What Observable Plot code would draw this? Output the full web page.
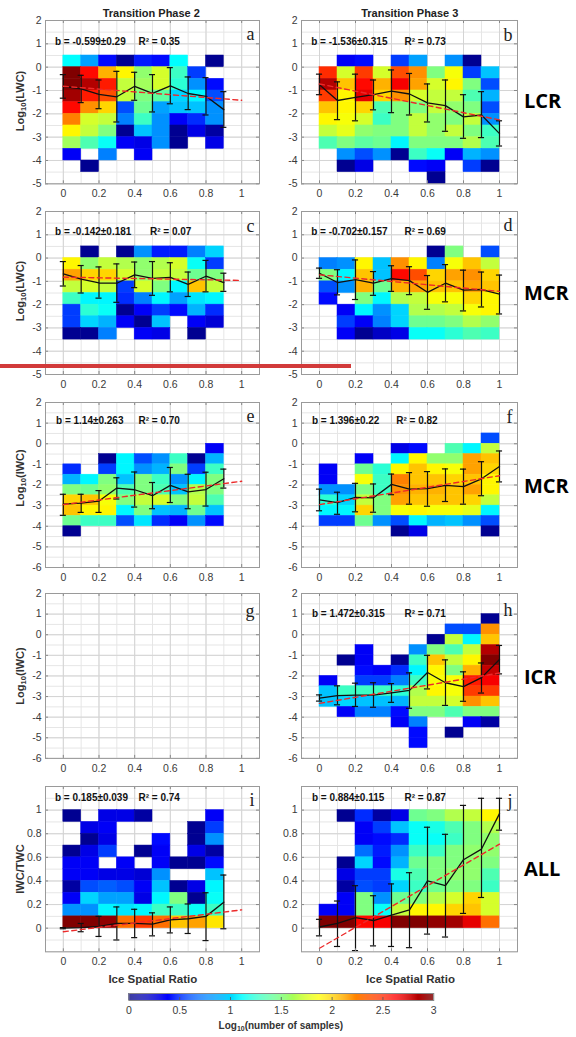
<!DOCTYPE html>
<html><head><meta charset="utf-8">
<script src="https://cdn.jsdelivr.net/npm/d3@7"></script>
<script src="https://cdn.jsdelivr.net/npm/@observablehq/plot@0.6"></script>
<style>
body{margin:0;background:#fff;}
#root{position:relative;width:576px;height:1037px;overflow:hidden;font-family:"Liberation Sans",Arial,sans-serif;}
.t{position:absolute;white-space:nowrap;color:#222;}
.ctr{transform:translate(-50%,-50%);}
.rot{transform:translate(-50%,-50%) rotate(-90deg);}
.bold{font-weight:bold;}
sub{font-size:70%;vertical-align:-0.3em;line-height:0;}
</style></head><body><div id="root"></div>
<script>
// ---------------- data ----------------
const ratio = [0, 0.1, 0.2, 0.3, 0.4, 0.5, 0.6, 0.7, 0.8, 0.9, 1.0];
const xTicks = [0, 0.2, 0.4, 0.6, 0.8, 1];
const xGrid = [-0.1, 0, 0.1, 0.2, 0.3, 0.4, 0.5, 0.6, 0.7, 0.8, 0.9, 1.0, 1.1];
const yTicksLWC = [-5, -4, -3, -2, -1, 0, 1, 2];
const yTicksIWC = [-6, -5, -4, -3, -2, -1, 0, 1, 2];
const yTicksFrac = [0, 0.2, 0.4, 0.6, 0.8, 1];
const yGridLWC = [-5, -4.5, -4, -3.5, -3, -2.5, -2, -1.5, -1, -0.5, 0, 0.5, 1, 1.5, 2];
const yGridIWC = [-6, -5.5, ...yGridLWC];
const yGridFrac = [-0.2, -0.1, 0, 0.1, 0.2, 0.3, 0.4, 0.5, 0.6, 0.7, 0.8, 0.9, 1.0, 1.1, 1.2];
const cbTicks = [0, 0.5, 1, 1.5, 2, 2.5, 3];

// log10(number of samples) per cell, rows listed top to bottom, columns = ice spatial ratio bins
const countsA = [ // top 0.5, step 0.5
  [1.125,0.85,0.4,0.05,0.45,0.4,1.125,null,0.05],
  [3.0,2.6,2.1,1.9,1.55,1.75,1.3,0.55,null],
  [3.0,2.85,2.55,1.7,1.6,1.75,1.25,0.8,0.4],
  [2.9,2.55,2.4,1.7,1.5,1.4,1.0,1.1,0.6],
  [2.6,2.2,2.0,0.6,1.45,0.85,0.95,0.95,0.8],
  [2.25,1.75,1.7,0.75,1.3,0.8,0.35,0.5,0.8],
  [1.9,1.7,1.5,0.05,0.95,0.8,0.05,0.3,0.1],
  [1.6,1.35,1.15,0.35,0.3,0.8,0.05,null,0.3],
  [0.35,null,0.75,null,0.35,null,null,null,null],
  [null,0.05,null,null,null,null,null,null,null]];
const countsB = [ // top 0.5
  [null,0.35,0.4,null,0.55,0.85,null,0.8,0.05,null],
  [2.5,1.75,2.45,1.75,2.4,2.2,1.5,1.85,0.55,0.95],
  [2.85,2.05,2.6,2.1,2.65,2.15,1.75,1.9,1.5,0.6],
  [2.45,1.9,2.7,2.0,2.2,1.75,1.7,1.7,1.35,0.9],
  [2.05,1.9,2.0,1.35,1.5,1.5,1.7,1.55,1.5,0.6],
  [1.9,1.85,1.75,1.3,1.5,1.7,1.55,1.5,1.7,0.8],
  [1.7,1.8,1.55,1.5,1.5,1.7,1.55,1.7,1.5,1.3],
  [1.35,1.5,1.4,1.45,1.1,1.5,1.5,1.5,1.65,1.35],
  [null,0.8,0.6,0.8,0.05,1.3,1.15,0.35,0.9,0.8],
  [null,0.05,0.3,null,null,0.4,0.35,null,0.55,0.05],
  [null,null,null,null,null,null,0.05,null,null,null]];
const countsC = [ // top 0.5
  [null,0.05,null,0.05,0.8,0.45,0.45,0.75,1.0],
  [1.9,1.55,1.7,1.65,1.55,1.65,1.75,1.15,0.55],
  [2.15,2.0,2.0,1.75,1.55,1.7,1.7,1.45,1.5],
  [1.7,1.75,1.7,0.55,1.75,1.5,1.1,2.05,1.7],
  [1.3,1.1,1.1,0.5,0.75,1.1,0.85,1.05,1.1],
  [0.55,1.25,1.15,0.05,0.35,0.55,0.4,0.9,0.5],
  [0.55,1.0,0.9,0.35,0.05,0.95,null,0.35,0.25],
  [0.05,0.05,0.75,null,0.35,0.3,null,0.05,null]];
const countsD = [ // top 0.5
  [null,null,null,null,null,null,0.05,1.5,null,0.6],
  [0.75,0.8,1.9,0.95,2.2,1.9,0.75,1.85,2.05,1.7],
  [1.5,1.1,2.05,0.95,2.6,2.4,2.0,2.15,2.2,2.0],
  [0.6,0.8,2.1,1.45,2.1,2.15,2.05,2.05,2.15,2.05],
  [0.4,null,1.5,1.1,1.65,1.7,1.85,1.85,2.0,1.9],
  [null,0.35,1.1,0.8,1.0,1.65,1.65,1.7,1.85,1.9],
  [null,0.55,0.35,0.75,1.0,1.45,1.45,1.5,1.65,1.55],
  [null,0.35,0.05,0.2,0.3,1.15,1.15,1.25,1.35,1.3]];
const countsE = [ // top 0
  [null,null,null,null,null,null,null,null,0.35],
  [null,null,0.05,1.1,0.6,0.8,1.3,0.05,0.9],
  [0.5,null,0.55,1.1,0.8,0.9,1.5,0.55,1.3],
  [0.9,1.1,1.5,0.95,1.5,1.3,0.8,1.1,1.5],
  [1.5,1.45,1.55,1.35,1.5,1.35,0.95,1.65,1.5],
  [2.0,2.05,1.85,1.5,1.7,1.75,1.5,1.7,1.35],
  [2.05,1.9,1.9,1.1,1.5,0.95,0.9,1.45,0.95],
  [1.45,1.3,1.3,0.6,1.05,0.5,0.35,0.8,0.4],
  [0.05,null,null,null,null,null,null,null,null]];
const countsF = [ // top 0.5
  [null,null,null,null,null,null,null,null,null,0.6],
  [null,null,null,null,0.3,0.4,null,1.35,1.1,1.7],
  [null,null,0.35,null,1.1,1.9,1.55,1.55,2.15,2.05],
  [0.35,null,1.45,1.25,1.9,2.05,1.9,1.85,2.15,2.0],
  [0.35,null,1.85,1.3,2.25,2.05,2.05,2.0,2.05,1.9],
  [0.8,0.8,1.5,1.3,2.2,2.1,2.1,2.05,2.15,1.9],
  [1.25,1.0,1.7,1.5,2.15,2.05,2.05,2.05,2.0,1.7],
  [1.1,1.1,2.0,1.5,1.85,1.9,1.85,1.85,1.8,1.1],
  [0.55,0.55,1.45,0.8,0.6,1.1,0.9,0.95,0.8,0.6],
  [null,null,null,null,0.05,0.3,null,null,null,0.05]];
const countsH = [ // top 1.0
  [null,null,null,null,null,null,null,null,null,0.05],
  [null,null,null,null,null,null,null,0.6,0.6,2.2],
  [null,null,null,null,null,null,0.05,1.7,1.1,2.05],
  [null,null,0.35,null,null,0.8,1.5,1.35,1.7,2.85],
  [null,0.05,0.35,null,0.05,1.3,2.05,1.7,1.9,3.0],
  [null,null,0.4,0.35,0.5,1.1,1.9,1.5,2.1,2.8],
  [0.35,null,0.55,0.55,0.75,1.3,1.85,1.85,2.55,2.65],
  [0.95,1.3,1.3,1.3,1.25,1.65,1.9,1.85,2.45,2.45],
  [0.95,1.0,0.95,0.95,0.9,1.7,1.7,1.75,2.2,2.05],
  [null,0.35,0.75,0.75,0.4,1.5,1.5,1.35,1.5,1.5],
  [null,null,null,null,0.35,0.75,null,null,0.35,0.1],
  [null,null,null,null,null,0.4,null,0.05,null,null],
  [null,null,null,null,null,0.4,null,null,null,null]];
const countsI = [ // top 1.0, step 0.1
  [0.05,null,0.3,0.3,0.1,null,null,null,0.35],
  [null,0.3,0.35,null,null,null,null,0.05,0.55],
  [null,0.05,0.3,null,null,0.4,null,0.05,0.8],
  [0.05,0.3,0.55,null,0.05,0.35,null,0.3,0.1],
  [0.35,0.35,null,0.35,null,0.35,0.05,0.05,0.4],
  [0.35,0.35,0.3,0.3,0.25,0.8,null,null,0.95],
  [0.1,0.6,0.65,0.6,0.35,0.95,0.05,0.3,1.1],
  [0.35,1.0,0.85,0.85,0.3,1.1,1.5,0.05,1.15],
  [0.8,0.8,1.1,1.05,1.1,1.3,1.3,1.15,1.3],
  [3.0,3.0,2.95,2.3,2.45,2.3,2.05,2.15,1.95]];
const countsJ = [ // top 1.0, step 0.1
  [null,0.05,0.5,0.1,0.3,1.45,1.5,1.65,1.7,1.9],
  [null,null,0.35,0.55,0.95,1.15,1.2,1.35,1.5,1.65],
  [null,null,0.35,0.4,0.5,1.15,1.15,1.3,1.5,1.55],
  [null,null,0.7,0.45,0.8,1.3,1.3,1.5,1.55,1.55],
  [null,0.05,1.0,0.4,0.9,1.45,1.5,1.5,1.55,1.5],
  [null,0.3,0.55,0.55,1.2,1.35,1.5,1.55,1.55,1.35],
  [null,0.1,0.6,0.55,1.0,1.3,1.45,1.5,1.5,1.3],
  [null,0.35,1.5,0.8,1.45,1.5,1.65,1.75,2.0,1.75],
  [0.35,0.35,1.5,1.15,1.7,1.9,1.9,2.0,2.05,1.75],
  [3.0,3.0,2.6,2.65,3.0,3.0,2.95,2.9,2.7,2.3]];

// bin means and error-bar ends
const meanA = [-0.82,-0.93,-1.17,-1.27,-0.82,-1.12,-0.8,-1.13,-1.25,-1.82];
const hiA   = [-0.32,-0.35,-0.55,-0.18,-0.22,-0.32,-0.02,-0.42,-0.45,-1.05];
const loA   = [-1.33,-1.52,-1.78,-2.35,-1.42,-1.92,-1.57,-1.82,-2.05,-2.58];
const meanB = [-0.75,-1.43,-1.3,-1.18,-1.03,-1.15,-1.53,-1.65,-2.13,-2.05,-2.85];
const hiB   = [-0.3,-0.63,-0.3,-0.55,-0.12,-0.27,-0.72,-0.55,-1.18,-1.05,-2.3];
const loB   = [-1.18,-2.25,-2.3,-1.83,-1.95,-2.05,-2.35,-2.75,-3.05,-3.02,-3.38];
const meanC = [-0.68,-0.9,-1.07,-1.08,-0.72,-0.87,-0.83,-1.13,-0.78,-1.05];
const hiC   = [-0.15,-0.32,-0.38,-0.25,-0.17,-0.15,-0.2,-0.6,-0.1,-0.65];
const loC   = [-1.2,-1.5,-1.72,-1.9,-1.27,-1.6,-1.45,-1.65,-1.45,-1.43];
const meanD = [-0.65,-1.05,-0.93,-1.08,-0.88,-0.97,-1.47,-1.08,-1.38,-1.35,-1.55];
const hiD   = [-0.43,-0.5,-0.08,-0.58,-0.33,-0.37,-0.75,-0.28,-0.52,-0.6,-0.73];
const loD   = [-0.87,-1.58,-1.78,-1.6,-1.43,-1.57,-2.2,-1.88,-2.27,-2.1,-2.4];
const meanE = [-2.93,-2.88,-2.78,-2.15,-2.23,-2.52,-2.02,-2.33,-2.22,-1.7];
const hiE   = [-2.45,-2.45,-2.27,-1.65,-1.37,-1.88,-1.15,-1.48,-1.38,-1.23];
const loE   = [-3.47,-3.33,-3.33,-2.68,-3.07,-3.15,-2.85,-3.15,-3.02,-2.15];
const meanF = [-2.72,-2.85,-2.6,-2.62,-1.97,-2.2,-2.18,-2.02,-2.08,-1.7,-1.1];
const hiF   = [-2.2,-2.35,-1.92,-1.95,-1.47,-1.4,-1.35,-1.22,-1.23,-0.87,-0.35];
const loF   = [-3.25,-3.42,-3.3,-3.32,-2.47,-2.93,-3.03,-2.8,-2.93,-2.52,-1.85];
const meanH = [-3.08,-2.95,-2.93,-2.93,-2.82,-2.7,-1.83,-2.33,-2.52,-2.08,-1.2];
const hiH   = [-2.92,-2.48,-2.35,-2.33,-2.37,-1.85,-1.0,-1.22,-1.8,-1.37,-0.52];
const loH   = [-3.22,-3.4,-3.48,-3.52,-3.28,-3.57,-2.63,-3.43,-3.23,-2.83,-1.9];
const meanI = [0.0,0.005,0.015,0.04,0.04,0.035,0.07,0.08,0.1,0.22];
const hiI   = [0.005,0.04,0.1,0.18,0.16,0.13,0.18,0.205,0.3,0.45];
const loI   = [-0.005,-0.03,-0.07,-0.1,-0.08,-0.065,-0.04,-0.045,-0.105,-0.005];
const meanJ = [0.01,0.04,0.09,0.065,0.11,0.155,0.4,0.36,0.58,0.67,0.97];
const hiJ   = [0.075,0.23,0.36,0.275,0.375,0.47,0.855,0.795,1.04,1.1,1.1];
const loJ   = [-0.065,-0.155,-0.19,-0.15,-0.155,-0.165,-0.05,-0.075,0.125,0.26,0.83];

// regression line end points [ratio, value]
const fitA = [[0,-0.82],[1,-1.42]];
const fitB = [[0,-0.72],[1,-2.26]];
const fitC = [[0,-0.82],[1,-0.96]];
const fitD = [[0,-0.72],[1,-1.43]];
const fitE = [[0,-2.95],[1,-1.82]];
const fitF = [[0,-2.95],[1,-1.55]];
const fitH = [[0,-3.33],[1,-1.86]];
const fitI = [[0,-0.03],[1,0.155]];
const fitJ = [[0,-0.17],[1,0.712]];

const bTexts = ["b = -0.599±0.29","b = -1.536±0.315","b = -0.142±0.181","b = -0.702±0.157","b = 1.14±0.263","b = 1.396±0.22",null,"b = 1.472±0.315","b = 0.185±0.039","b = 0.884±0.115"];
const r2Texts = ["R² = 0.35","R² = 0.73","R² = 0.07","R² = 0.69","R² = 0.70","R² = 0.82",null,"R² = 0.71","R² = 0.74","R² = 0.87"];
const letters = ["a","b","c","d","e","f","g","h","i","j"];
const colTitles = ["Transition Phase 2","Transition Phase 3"];
const rowLabels = ["LCR","MCR","MCR","ICR","ALL"];

// ---------------- helpers ----------------
const jet = {type:"linear", domain:[0,0.375,1.125,1.875,2.625,3],
  range:["#000080","#0000ff","#00ffff","#ffff00","#ff0000","#800000"], clamp:true};
function cells(rows, top, step){
  const out=[];
  rows.forEach((row,r)=>row.forEach((v,c)=>{
    if(v!=null) out.push({x1:ratio[c],x2:ratio[c+1],y1:top-r*step,y2:top-(r+1)*step,v});
  }));
  return out;
}
function series(mean,hi,lo){return mean.map((m,i)=>({x:ratio[i],m,hi:hi[i],lo:lo[i]}));}
const fmt = d=>String(d);
const root = document.getElementById("root");
const COLS=[{left:44.5,w:214},{left:301.3,w:216}];
const ROWS=[{top:20,h:163.3},{top:211,h:163},{top:402.3,h:165},{top:593.4,h:164.9},{top:785.7,h:165.3}];
const M={l:32,r:6,t:6,b:24};
const tickCol="#3a3a3a";

function drawPanel(p){
  const {left,w}=COLS[p.col]; const {top,h}=ROWS[p.row];
  const marks=[
    Plot.gridX(xGrid,{stroke:"#e6e6e6",strokeOpacity:1}),
    Plot.gridY(p.yGrid,{stroke:"#e6e6e6",strokeOpacity:1}),
    Plot.gridX(xTicks,{stroke:"#d4d4d4",strokeOpacity:1}),
    Plot.gridY(p.yTicks,{stroke:"#d4d4d4",strokeOpacity:1}),
  ];
  if(p.cells){
    marks.push(Plot.rect(p.cells,{x1:"x1",x2:"x2",y1:"y1",y2:"y2",fill:"v",stroke:"v",strokeWidth:0.5}));
    marks.push(Plot.ruleX(p.s,{x:"x",y1:"lo",y2:"hi",stroke:"#111",strokeWidth:1.2}));
    marks.push(Plot.ruleY(p.s,{y:"hi",x1:d=>d.x-0.017,x2:d=>d.x+0.017,stroke:"#111",strokeWidth:1.2}));
    marks.push(Plot.ruleY(p.s,{y:"lo",x1:d=>d.x-0.017,x2:d=>d.x+0.017,stroke:"#111",strokeWidth:1.2}));
    marks.push(Plot.line(p.s,{x:"x",y:"m",stroke:"#111",strokeWidth:1.3}));
    marks.push(Plot.line(p.fit,{x:d=>d[0],y:d=>d[1],stroke:"#ec2a2a",strokeWidth:1.4,strokeDasharray:"5,3.5"}));
    marks.push(Plot.text([p.b],{text:d=>d,frameAnchor:"top-left",dx:p.bx,dy:p.ty,textAnchor:"start",lineAnchor:"middle",fontWeight:"bold",fontSize:10,fill:"#111"}));
    marks.push(Plot.text([p.r2],{text:d=>d,frameAnchor:"top-left",dx:p.rx,dy:p.ty,textAnchor:"start",lineAnchor:"middle",fontWeight:"bold",fontSize:10,fill:"#111"}));
  }
  marks.push(Plot.text([p.letter],{text:d=>d,frameAnchor:"top-right",dx:-5,dy:p.ly,textAnchor:"end",lineAnchor:"middle",fontFamily:"Liberation Serif, DejaVu Serif, serif",fontSize:18,fill:"#222"}));
  marks.push(Plot.tickX(xTicks,{x:d=>d,insetTop:h-3,stroke:"#888"}));
  marks.push(Plot.tickX(xTicks,{x:d=>d,insetBottom:h-3,stroke:"#888"}));
  marks.push(Plot.tickY(p.yTicks,{y:d=>d,insetRight:w-3,stroke:"#888"}));
  marks.push(Plot.tickY(p.yTicks,{y:d=>d,insetLeft:w-3,stroke:"#888"}));
  marks.push(Plot.frame({stroke:"#9a9a9a"}));
  marks.push(Plot.axisX(xTicks,{anchor:"bottom",tickSize:0,tickPadding:6,tickFormat:fmt,fontSize:10.5,fill:tickCol,label:null}));
  marks.push(Plot.axisY(p.yTicks,{anchor:"left",tickSize:0,tickPadding:4,tickFormat:fmt,fontSize:10.5,fill:tickCol,label:null}));
  const svg=Plot.plot({
    width:w+M.l+M.r,height:h+M.t+M.b,
    marginLeft:M.l,marginRight:M.r,marginTop:M.t,marginBottom:M.b,
    x:{domain:[-0.1,1.1]},y:{domain:p.yDomain},color:jet,
    style:{fontFamily:"Liberation Sans, Arial, sans-serif",background:"transparent",overflow:"visible"},
    marks
  });
  svg.style.position="absolute";
  svg.style.left=(left-M.l)+"px";
  svg.style.top=(top-M.t)+"px";
  root.appendChild(svg);
}

const panels=[
  {col:0,row:0,counts:countsA,top:0.5,step:0.5,s:series(meanA,hiA,loA),fit:fitA,bx:9.5,rx:93,ty:21.7,ly:14},
  {col:1,row:0,counts:countsB,top:0.5,step:0.5,s:series(meanB,hiB,loB),fit:fitB,bx:9.7,rx:103,ty:21.7,ly:15},
  {col:0,row:1,counts:countsC,top:0.5,step:0.5,s:series(meanC,hiC,loC),fit:fitC,bx:9.5,rx:104.5,ty:20,ly:15},
  {col:1,row:1,counts:countsD,top:0.5,step:0.5,s:series(meanD,hiD,loD),fit:fitD,bx:9.7,rx:103,ty:20,ly:14},
  {col:0,row:2,counts:countsE,top:0,step:0.5,s:series(meanE,hiE,loE),fit:fitE,bx:10.5,rx:93,ty:18.7,ly:13.5},
  {col:1,row:2,counts:countsF,top:0.5,step:0.5,s:series(meanF,hiF,loF),fit:fitF,bx:10.4,rx:94.7,ty:18.7,ly:14.5},
  {col:0,row:3,counts:null,ly:18},
  {col:1,row:3,counts:countsH,top:1.0,step:0.5,s:series(meanH,hiH,loH),fit:fitH,bx:10.4,rx:103,ty:20,ly:16.5},
  {col:0,row:4,counts:countsI,top:1.0,step:0.1,s:series(meanI,hiI,loI),fit:fitI,bx:9.5,rx:93,ty:11,ly:14},
  {col:1,row:4,counts:countsJ,top:1.0,step:0.1,s:series(meanJ,hiJ,loJ),fit:fitJ,bx:10.4,rx:103,ty:11.5,ly:14.3},
];
panels.forEach((p,i)=>{
  const yDomain = p.row<2?[-5,2]:p.row<4?[-6,2]:[-0.2,1.2];
  const yTicks = p.row<2?yTicksLWC:p.row<4?yTicksIWC:yTicksFrac;
  const yGrid = p.row<2?yGridLWC:p.row<4?yGridIWC:yGridFrac;
  drawPanel({...p,yDomain,yTicks,yGrid,cells:p.counts?cells(p.counts,p.top,p.step):null,
    b:bTexts[i],r2:r2Texts[i],letter:letters[i]});
});

// colorbar
const ramp=d3.range(0,300).map(i=>({a:i/100,b:(i+1)/100,v:(i+0.5)/100}));
const cb=Plot.plot({
  width:28.3+305+30,height:8+7+24,marginLeft:28.3,marginRight:30,marginTop:8,marginBottom:24,
  x:{domain:[0,3]},color:jet,
  style:{fontFamily:"Liberation Sans, Arial, sans-serif",background:"transparent",overflow:"visible"},
  marks:[
    Plot.rect(ramp,{x1:"a",x2:"b",fill:"v"}),
    Plot.tickX(cbTicks.slice(1,-1),{x:d=>d,insetTop:4,stroke:"#555",strokeWidth:0.8}),
    Plot.frame({stroke:"#888"}),
    Plot.axisX(cbTicks,{anchor:"bottom",tickSize:0,tickPadding:6,tickFormat:fmt,fontSize:10.5,fill:tickCol,label:null})
  ]
});
cb.style.position="absolute";cb.style.left=(128.3-28.3)+"px";cb.style.top=(993-8)+"px";
root.appendChild(cb);

// text overlays
function addText(html,x,y,cls,style){
  const d=document.createElement("div");d.className="t "+cls;d.innerHTML=html;
  d.style.left=x+"px";d.style.top=y+"px";Object.assign(d.style,style||{});root.appendChild(d);return d;
}
addText(colTitles[0],151.3,13.3,"ctr bold",{fontSize:"11px"});
addText(colTitles[1],409.8,13.3,"ctr bold",{fontSize:"11px"});
const rowY=[99.7,291.7,485,676,868.3];
rowLabels.forEach((l,i)=>addText(l,524,rowY[i],"bold",{fontSize:"20px",fontFamily:"'Open Sans',sans-serif",transform:"translateY(-50%)",color:"#000"}));
const yLab=["Log<sub>10</sub>(LWC)","Log<sub>10</sub>(LWC)","Log<sub>10</sub>(IWC)","Log<sub>10</sub>(IWC)","IWC/TWC"];
const yLabY=[101,291,478,676,869];
yLab.forEach((l,i)=>addText(l,19.5,yLabY[i],"rot bold",{fontSize:"11px",color:"#333"}));
addText("Ice Spatial Ratio",152.8,979,"ctr bold",{fontSize:"11.5px",color:"#333"});
addText("Ice Spatial Ratio",410.5,979,"ctr bold",{fontSize:"11.5px",color:"#333"});
addText("Log<sub>10</sub>(number of samples)",280.8,1025,"ctr bold",{fontSize:"10px",color:"#333"});
// red annotation stroke
const red=document.createElement("div");
Object.assign(red.style,{position:"absolute",left:"0px",top:"363.5px",width:"351px",height:"4px",background:"#d23a3a"});
root.appendChild(red);
</script></body></html>
